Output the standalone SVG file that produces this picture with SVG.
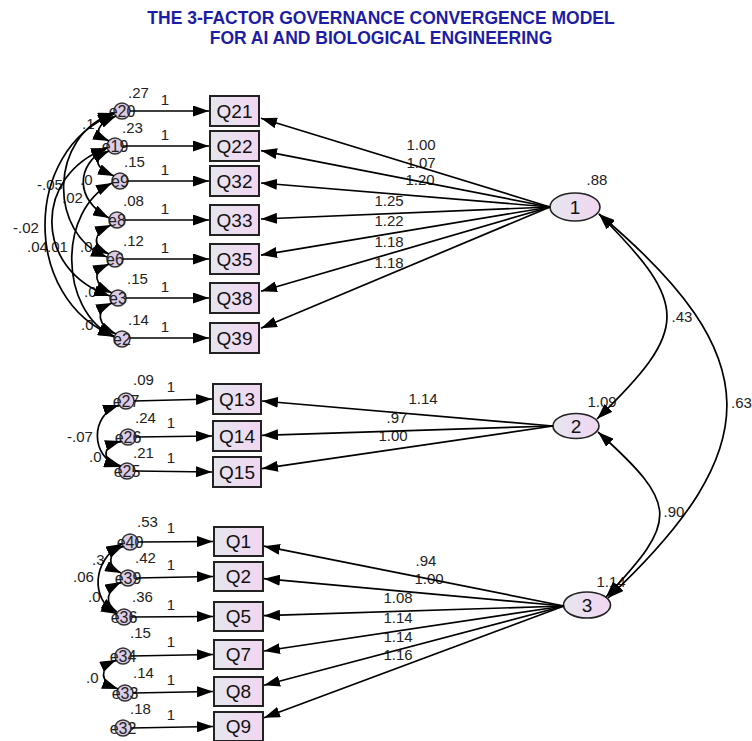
<svg xmlns="http://www.w3.org/2000/svg" width="752" height="741" viewBox="0 0 752 741">
  <defs>
    <linearGradient id="fillObs" x1="0" y1="0" x2="1" y2="0">
      <stop offset="0" stop-color="#e6e6ee"/>
      <stop offset="1" stop-color="#f1d6f1"/>
    </linearGradient>
    <marker id="ah" viewBox="0 0 16 11" refX="16" refY="5.5" markerWidth="16" markerHeight="11" markerUnits="userSpaceOnUse" orient="auto-start-reverse">
      <path d="M0,0 L16,5.5 L0,11 z" fill="#000"/>
    </marker>
    <style>
      .box { fill: url(#fillObs); stroke: #222; stroke-width: 2; }
      .lat { fill: url(#fillObs); stroke: #222; stroke-width: 1.6; }
      .err { fill: #ddcde8; stroke: #333; stroke-width: 1.4; }
      .vt { font-family: "Liberation Sans", Arial, sans-serif; font-size: 19px; fill: #111; text-anchor: middle; }
      .et { font-family: "Liberation Sans", Arial, sans-serif; font-size: 16px; fill: #222; text-anchor: middle; }
      .n { font-family: "Liberation Sans", Arial, sans-serif; font-size: 15px; fill: #222; }
      .m { text-anchor: middle; }
      .title { font-family: "Liberation Sans", Arial, sans-serif; font-size: 17.5px; font-weight: bold; fill: #1c1ca6; text-anchor: middle; }
      .c { fill: none; stroke: #000; stroke-width: 1.7; }
      .a { marker-end: url(#ah); }
      .b { marker-start: url(#ah); marker-end: url(#ah); }
    </style>
  </defs>

  <rect width="752" height="741" fill="#fff"/>

  <text class="title" x="381" y="24">THE 3-FACTOR GOVERNANCE CONVERGENCE MODEL</text>
  <text class="title" x="381" y="44">FOR AI AND BIOLOGICAL ENGINEERING</text>

  <!-- observed indicators -->
  <g id="Q21"><rect class="box" x="210" y="96" width="49" height="30"/><text class="vt" x="234.5" y="118">Q21</text></g>
  <g id="Q22"><rect class="box" x="210" y="131" width="49" height="30"/><text class="vt" x="234.5" y="153">Q22</text></g>
  <g id="Q32"><rect class="box" x="210" y="166" width="49" height="30"/><text class="vt" x="234.5" y="188">Q32</text></g>
  <g id="Q33"><rect class="box" x="210" y="205" width="49" height="30"/><text class="vt" x="234.5" y="227">Q33</text></g>
  <g id="Q35"><rect class="box" x="210" y="244" width="49" height="30"/><text class="vt" x="234.5" y="266">Q35</text></g>
  <g id="Q38"><rect class="box" x="210" y="283" width="49" height="30"/><text class="vt" x="234.5" y="305">Q38</text></g>
  <g id="Q39"><rect class="box" x="210" y="323" width="49" height="30"/><text class="vt" x="234.5" y="345">Q39</text></g>

  <g id="Q13"><rect class="box" x="213" y="384" width="48" height="30"/><text class="vt" x="237" y="406">Q13</text></g>
  <g id="Q14"><rect class="box" x="213" y="421" width="48" height="30"/><text class="vt" x="237" y="443">Q14</text></g>
  <g id="Q15"><rect class="box" x="213" y="457" width="48" height="30"/><text class="vt" x="237" y="479">Q15</text></g>

  <g id="Q1"><rect class="box" x="214" y="527" width="49" height="29"/><text class="vt" x="238.5" y="548">Q1</text></g>
  <g id="Q2"><rect class="box" x="214" y="562" width="49" height="29"/><text class="vt" x="238.5" y="583">Q2</text></g>
  <g id="Q5"><rect class="box" x="214" y="602" width="49" height="29"/><text class="vt" x="238.5" y="623">Q5</text></g>
  <g id="Q7"><rect class="box" x="214" y="640" width="49" height="29"/><text class="vt" x="238.5" y="661">Q7</text></g>
  <g id="Q8"><rect class="box" x="214" y="677" width="49" height="29"/><text class="vt" x="238.5" y="698">Q8</text></g>
  <g id="Q9"><rect class="box" x="214" y="712" width="49" height="29"/><text class="vt" x="238.5" y="733">Q9</text></g>

  <!-- latent factors -->
  <g id="F1"><ellipse class="lat" cx="575" cy="207" rx="25" ry="14"/><text class="vt" x="575" y="214">1</text></g>
  <g id="F2"><ellipse class="lat" cx="576" cy="426" rx="23" ry="12.5"/><text class="vt" x="576" y="433">2</text></g>
  <g id="F3"><ellipse class="lat" cx="587" cy="605" rx="23.5" ry="13"/><text class="vt" x="587" y="612">3</text></g>

  <!-- error terms -->
  <g id="e20"><circle class="err" cx="122" cy="111" r="8"/><text class="et" x="122" y="117">e20</text></g>
  <g id="e19"><circle class="err" cx="115" cy="146" r="8"/><text class="et" x="115" y="152">e19</text></g>
  <g id="e9"><circle class="err" cx="120" cy="181" r="8"/><text class="et" x="120" y="187">e9</text></g>
  <g id="e8"><circle class="err" cx="117" cy="220" r="8"/><text class="et" x="117" y="226">e8</text></g>
  <g id="e6"><circle class="err" cx="115" cy="259" r="8"/><text class="et" x="115" y="265">e6</text></g>
  <g id="e3"><circle class="err" cx="118" cy="298" r="8"/><text class="et" x="118" y="304">e3</text></g>
  <g id="e2"><circle class="err" cx="122" cy="339" r="8"/><text class="et" x="122" y="345">e2</text></g>

  <g id="e27"><circle class="err" cx="126" cy="401" r="8"/><text class="et" x="126" y="407">e27</text></g>
  <g id="e26"><circle class="err" cx="128" cy="437" r="8"/><text class="et" x="128" y="443">e26</text></g>
  <g id="e25"><circle class="err" cx="127" cy="471" r="8"/><text class="et" x="127" y="477">e25</text></g>

  <g id="e40"><circle class="err" cx="130" cy="542" r="8"/><text class="et" x="130" y="548">e40</text></g>
  <g id="e39"><circle class="err" cx="128" cy="578" r="8"/><text class="et" x="128" y="584">e39</text></g>
  <g id="e36"><circle class="err" cx="124" cy="617" r="8"/><text class="et" x="124" y="623">e36</text></g>
  <g id="e34"><circle class="err" cx="123" cy="656" r="8"/><text class="et" x="123" y="662">e34</text></g>
  <g id="e33"><circle class="err" cx="125" cy="693" r="8"/><text class="et" x="125" y="699">e33</text></g>
  <g id="e32"><circle class="err" cx="123" cy="728" r="8"/><text class="et" x="123" y="734">e32</text></g>

  <!-- estimates -->
  <g id="estimates" class="n">
    <text x="128" y="98">.27</text><text x="122" y="133">.23</text><text x="124" y="167">.15</text>
    <text x="123" y="206">.08</text><text x="123" y="246">.12</text><text x="127" y="284">.15</text><text x="128" y="325">.14</text>
    <text x="133" y="385">.09</text><text x="135" y="423">.24</text><text x="133" y="458">.21</text>
    <text x="137" y="527">.53</text><text x="135" y="563">.42</text><text x="132" y="602">.36</text>
    <text x="130" y="638">.15</text><text x="133" y="678">.14</text><text x="130" y="714">.18</text>

    <g class="m">
      <text x="165" y="105">1</text><text x="165" y="140">1</text><text x="165" y="175">1</text><text x="165" y="214">1</text>
      <text x="165" y="253">1</text><text x="165" y="292">1</text><text x="165" y="332">1</text>
      <text x="171" y="392">1</text><text x="171" y="428">1</text><text x="171" y="463">1</text>
      <text x="171" y="533">1</text><text x="171" y="570">1</text><text x="171" y="610">1</text>
      <text x="171" y="647">1</text><text x="171" y="685">1</text><text x="171" y="720">1</text>

      <text x="421" y="150">1.00</text><text x="421" y="168">1.07</text><text x="420" y="185">1.20</text>
      <text x="389" y="206">1.25</text><text x="389" y="226">1.22</text><text x="389" y="247">1.18</text><text x="389" y="268">1.18</text>
      <text x="423" y="404">1.14</text><text x="397" y="423">.97</text><text x="393" y="441">1.00</text>
      <text x="426" y="566">.94</text><text x="429" y="584">1.00</text><text x="398" y="603">1.08</text>
      <text x="398" y="623">1.14</text><text x="398" y="642">1.14</text><text x="398" y="660">1.16</text>

      <text x="597" y="185">.88</text><text x="602" y="407">1.09</text><text x="611" y="587">1.14</text>
      <text x="682" y="322">.43</text><text x="674" y="517">.90</text>
    </g>
    <text x="731" y="408">.63</text>

    <text x="82" y="129">.1</text><text x="80" y="185">.0</text><text x="37" y="190">-.05</text><text x="62" y="203">.02</text>
    <text x="13" y="233">-.02</text><text x="27" y="252">.04</text><text x="47" y="252">.01</text><text x="80" y="252">.0</text>
    <text x="84" y="297">.0</text><text x="81" y="330">.0</text>
    <text x="67" y="442">-.07</text><text x="89" y="462">.0</text>
    <text x="92" y="565">.3</text><text x="73" y="582">.06</text><text x="88" y="602">.0</text><text x="86" y="683">.0</text>
  </g>

  <!-- paths and covariances -->
  <g id="connectors">
    <!-- error to indicator -->
    <g class="c a">
      <path d="M130,111 H209"/><path d="M123,146 H209"/><path d="M128,181 H209"/><path d="M125,220 H209"/>
      <path d="M123,259 H209"/><path d="M126,298 H209"/><path d="M130,338 H209"/>
      <path d="M134,401 L212,399"/><path d="M136,437 L212,436"/><path d="M135,471 L212,472"/>
      <path d="M138,542 L213,541.5"/><path d="M136,578 L213,576.5"/><path d="M132,617 L213,616.5"/>
      <path d="M131,656 L213,654.5"/><path d="M133,693 L213,691.5"/><path d="M131,728 L213,726.5"/>
    </g>
    <!-- factor loadings -->
    <g class="c a">
      <path d="M550,207 L261,118.2"/><path d="M550,207 L261,150.6"/><path d="M550,207 L261,183"/>
      <path d="M550,207 L261,219"/><path d="M550,207 L261,255.1"/><path d="M550,207 L261,291.2"/><path d="M550,207 L261,328.2"/>
      <path d="M553,426 L262,401"/><path d="M553,426 L262,435.3"/><path d="M553,426 L262,468.6"/>
      <path d="M564,606 L264,546.2"/><path d="M564,606 L264,578.7"/><path d="M564,606 L264,615.7"/>
      <path d="M564,606 L264,651"/><path d="M564,606 L264,685.3"/><path d="M564,606 L264,717.7"/>
    </g>
    <!-- factor covariances -->
    <g class="c b">
      <path d="M599,214 C690,305 690,329 597,419"/>
      <path d="M599,214 C768,356 768,448 608,598"/>
      <path d="M598,432 C679,505 679,520 606,597"/>
    </g>
    <!-- error covariances -->
    <g class="c b">
      <path d="M116,116 C98,124 91,133 109,141"/>
      <path d="M109,151 C91,159 96,168 114,176"/>
      <path d="M111,225 C93,233 91,246 109,254"/>
      <path d="M109,264 C91,272 94,285 112,293"/>
      <path d="M112,303 C94,311 98,326 116,334"/>
      <path d="M114,114 C22,150 22,300 114,336"/>
      <path d="M107,148 C33,175 33,270 110,296"/>
      <path d="M114,113 C48,135 48,235 107,257"/>
      <path d="M112,183 C58,210 58,310 114,337"/>
      <path d="M107,148 C75,165 75,200 109,218"/>

      <path d="M119,405 C90,415 90,457 120,467"/>
      <path d="M121,441 C101,447 101,460 121,466"/>

      <path d="M123,546 C108,553 106,566 121,573"/>
      <path d="M122,544 C92,560 90,600 117,614"/>
      <path d="M121,582 C106,590 104,604 117,612"/>
      <path d="M116,660 C99,668 99,682 118,689"/>
    </g>
  </g>
</svg>
